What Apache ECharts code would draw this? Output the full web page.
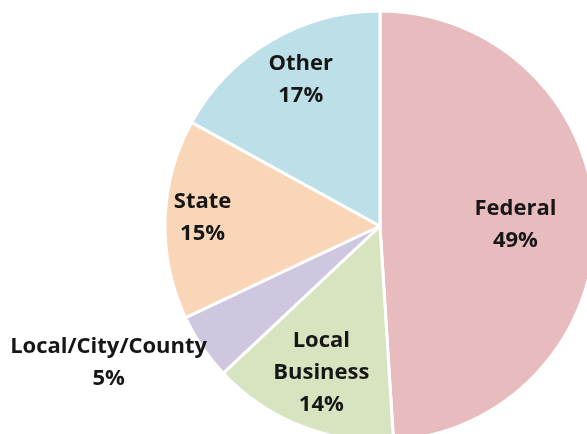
<!DOCTYPE html>
<html>
<head>
<meta charset="utf-8">
<script src="https://cdn.jsdelivr.net/npm/echarts@6/dist/echarts.min.js"></script>
<style>
  html, body { margin: 0; padding: 0; background: #fff; }
  #chart { width: 587px; height: 434px; }
</style>
</head>
<body>
<div id="chart"></div>
<script>
const categories = ['Federal', 'Local\nBusiness', 'Local/City/County', 'State', 'Other']
const shares = [49, 14, 5, 15, 17]
const colors = ['#E8BCBE', '#D8E4C0', '#CFC6DF', '#FAD6B9', '#BCDFE8']

// nudge each label from the default inside spot to where the original sits
const labelShift = [[25, 2], [-18, 44], [-180, 75], [-67, -5], [-23, -51]]

const chart = echarts.init(document.getElementById('chart'))

chart.setOption({
  animation: false,
  series: [
    {
      type: 'pie',
      center: [380, 226],
      radius: 215,
      startAngle: 90,
      clockwise: true,
      itemStyle: { borderColor: '#fff', borderWidth: 3 },
      label: {
        show: true,
        position: 'inside',
        formatter: (p) => p.name + '\n' + p.value + '%',
        color: '#161616',
        fontFamily: 'Open Sans',
        fontWeight: 'bold',
        fontSize: 22,
        lineHeight: 32,
        align: 'center'
      },
      labelLine: { show: false },
      labelLayout: (params) => ({
        dx: labelShift[params.dataIndex][0],
        dy: labelShift[params.dataIndex][1]
      }),
      emphasis: { disabled: true },
      data: categories.map((name, i) => ({
        name,
        value: shares[i],
        itemStyle: { color: colors[i] }
      }))
    }
  ]
})
</script>
</body>
</html>
